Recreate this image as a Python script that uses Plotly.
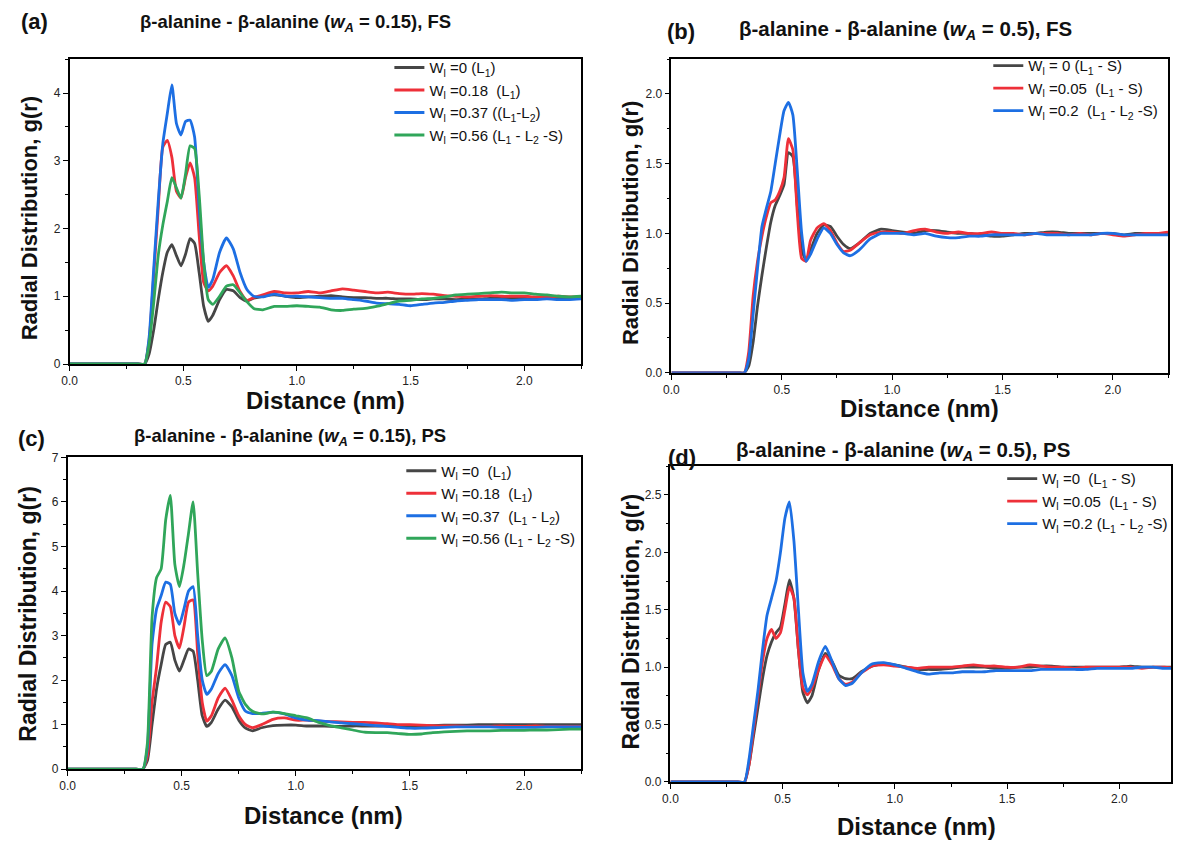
import plotly.graph_objects as go

# ---------------- data ----------------
distance_nm = [0.00, 0.30, 0.33, 0.35, 0.37, 0.39, 0.41, 0.43, 0.45, 0.47, 0.49, 0.51, 0.53, 0.55,
               0.57, 0.59, 0.61, 0.63, 0.66, 0.69, 0.72, 0.75, 0.78, 0.81, 0.85, 0.90, 0.95, 1.00,
               1.05, 1.10, 1.15, 1.20, 1.25, 1.30, 1.35, 1.40, 1.45, 1.50, 1.55, 1.60, 1.65, 1.70,
               1.75, 1.80, 1.85, 1.90, 1.95, 2.00, 2.05, 2.10, 2.15, 2.20, 2.25]

# panel (a): wA = 0.15, FS
a_w0 = [0, 0, 0, 0.15, 0.5, 0.95, 1.35, 1.65, 1.76, 1.6, 1.45, 1.62, 1.85, 1.78,
        1.35, 0.85, 0.63, 0.72, 0.95, 1.10, 1.08, 0.98, 0.93, 0.97, 1.0, 1.02, 1.0, 0.98,
        0.99, 1.0, 1.01, 0.99, 0.98, 0.98, 0.97, 0.97, 0.96, 0.96, 0.95, 0.96, 0.96, 0.95,
        0.96, 0.96, 0.97, 0.97, 0.98, 0.98, 0.98, 0.98, 0.97, 0.98, 0.98]
a_w018 = [0, 0, 0, 0.35, 1.3, 2.3, 3.2, 3.3, 3.05, 2.55, 2.45, 2.75, 2.97, 2.75,
          1.9, 1.2, 1.08, 1.15, 1.35, 1.45, 1.3, 1.07, 0.94, 0.98, 1.02, 1.07, 1.05, 1.05,
          1.07, 1.05, 1.08, 1.11, 1.09, 1.07, 1.05, 1.06, 1.04, 1.03, 1.04, 1.03, 1.01, 1.0,
          0.99, 1.0, 1.01, 1.0, 1.0, 1.0, 0.99, 0.99, 1.0, 0.99, 0.99]
a_w037 = [0, 0, 0, 0.4, 1.4, 2.4, 3.25, 3.7, 4.12, 3.55, 3.38, 3.58, 3.6, 3.35,
          2.3, 1.5, 1.13, 1.25, 1.65, 1.86, 1.7, 1.35, 1.1, 1.0, 0.99, 1.03, 1.0, 1.0,
          0.99, 0.98, 0.97, 0.97, 0.95, 0.93, 0.9, 0.89, 0.88, 0.86, 0.88, 0.9, 0.91, 0.93,
          0.94, 0.95, 0.95, 0.95, 0.94, 0.95, 0.95, 0.96, 0.95, 0.95, 0.96]
a_w056 = [0, 0, 0, 0.3, 0.9, 1.6, 2.05, 2.4, 2.75, 2.6, 2.45, 2.8, 3.22, 3.18,
          2.5, 1.5, 0.95, 0.88, 1.0, 1.15, 1.17, 1.05, 0.92, 0.82, 0.8, 0.85, 0.85, 0.86,
          0.85, 0.84, 0.80, 0.79, 0.81, 0.82, 0.85, 0.89, 0.93, 0.94, 0.96, 0.97, 0.99, 1.02,
          1.03, 1.04, 1.05, 1.06, 1.05, 1.05, 1.03, 1.02, 1.0, 0.99, 1.0]

# panel (b): wA = 0.5, FS
b_w0 = [0, 0, 0, 0.05, 0.22, 0.48, 0.7, 0.9, 1.08, 1.2, 1.27, 1.35, 1.58, 1.55,
        1.2, 0.88, 0.81, 0.88, 1.0, 1.06, 1.05, 0.98, 0.92, 0.89, 0.93, 1.0, 1.03, 1.02,
        1.01, 1.0, 1.02, 1.02, 1.01, 1.0, 1.0, 0.99, 0.98, 0.98, 0.99, 1.0, 1.0, 1.01,
        1.01, 1.0, 1.0, 1.0, 1.0, 1.0, 0.99, 1.0, 1.0, 1.0, 1.0]
b_w005 = [0, 0, 0, 0.15, 0.55, 0.8, 0.98, 1.12, 1.22, 1.24, 1.3, 1.4, 1.68, 1.6,
          1.15, 0.82, 0.8, 0.95, 1.04, 1.07, 1.02, 0.93, 0.87, 0.88, 0.93, 0.99, 1.01, 1.01,
          1.0, 1.02, 1.03, 1.01, 1.0, 1.01, 1.0, 1.0, 1.01, 1.0, 1.0, 0.99, 1.0, 1.0,
          1.0, 0.99, 1.0, 0.99, 1.0, 0.99, 0.98, 0.99, 1.0, 1.0, 1.01]
b_w02 = [0, 0, 0, 0.1, 0.42, 0.75, 1.05, 1.18, 1.3, 1.5, 1.7, 1.88, 1.94, 1.85,
         1.45, 1.0, 0.8, 0.85, 0.96, 1.04, 1.0, 0.92, 0.86, 0.84, 0.88, 0.96, 1.0, 1.0,
         1.0, 0.99, 1.0, 0.98, 0.97, 0.97, 0.98, 0.98, 0.99, 0.99, 0.99, 0.99, 1.0, 0.99,
         0.99, 0.99, 0.99, 0.99, 1.0, 1.0, 0.99, 0.99, 0.99, 0.99, 0.99]

# panel (c): wA = 0.15, PS
c_w0 = [0, 0, 0, 0.2, 1.0, 1.8, 2.35, 2.8, 2.85, 2.45, 2.2, 2.45, 2.7, 2.65,
        2.0, 1.2, 0.96, 1.05, 1.35, 1.55, 1.4, 1.1, 0.92, 0.86, 0.93, 0.98, 0.99, 0.99,
        0.97, 0.97, 0.96, 0.96, 0.97, 0.97, 0.97, 0.97, 0.96, 0.97, 0.98, 0.98, 0.99, 0.99,
        0.99, 1.0, 1.0, 1.0, 1.0, 1.0, 1.0, 1.0, 1.0, 1.0, 1.0]
c_w018 = [0, 0, 0, 0.3, 1.5, 2.3, 3.3, 3.75, 3.65, 3.0, 2.72, 3.2, 3.75, 3.8,
          2.6, 1.5, 1.08, 1.2, 1.6, 1.82, 1.55, 1.2, 1.0, 0.93, 1.0, 1.12, 1.15, 1.1,
          1.1, 1.08, 1.07, 1.06, 1.05, 1.05, 1.04, 1.02, 1.0, 1.0, 0.99, 0.98, 0.97, 0.97,
          0.96, 0.96, 0.96, 0.97, 0.96, 0.96, 0.97, 0.96, 0.96, 0.96, 0.96]
c_w037 = [0, 0, 0, 0.5, 2.8, 3.6, 3.9, 4.2, 4.15, 3.5, 3.25, 3.6, 4.0, 4.1,
          3.0, 2.0, 1.68, 1.8, 2.15, 2.35, 2.1, 1.6, 1.3, 1.25, 1.25, 1.28, 1.24, 1.15,
          1.1, 1.09, 1.06, 1.04, 1.02, 1.0, 0.98, 0.96, 0.94, 0.92, 0.92, 0.93, 0.94, 0.95,
          0.95, 0.95, 0.95, 0.94, 0.94, 0.94, 0.94, 0.95, 0.95, 0.95, 0.95]
c_w056 = [0, 0, 0, 0.6, 3.4, 4.3, 4.5, 5.6, 6.15, 4.6, 4.1, 4.6, 5.3, 6.0,
          4.4, 2.9, 2.1, 2.2, 2.7, 2.95, 2.5, 1.75, 1.45, 1.3, 1.24, 1.28, 1.25, 1.2,
          1.15, 1.05, 0.98, 0.93, 0.88, 0.83, 0.82, 0.82, 0.80, 0.78, 0.79, 0.82, 0.84, 0.85,
          0.86, 0.86, 0.86, 0.87, 0.87, 0.87, 0.88, 0.88, 0.89, 0.9, 0.9]

# panel (d): wA = 0.5, PS
d_w0 = [0, 0, 0, 0.15, 0.4, 0.65, 0.9, 1.1, 1.22, 1.3, 1.35, 1.55, 1.76, 1.6,
        1.15, 0.78, 0.69, 0.75, 0.98, 1.12, 1.05, 0.93, 0.9, 0.9, 0.96, 1.01, 1.03, 1.02,
        1.0, 0.98, 0.98, 0.98, 0.99, 1.0, 1.0, 1.0, 0.99, 0.99, 1.0, 1.0, 1.01, 1.01,
        1.0, 1.0, 1.0, 1.0, 1.0, 1.0, 1.01, 1.0, 1.0, 1.0, 1.0]
d_w005 = [0, 0, 0, 0.15, 0.45, 0.75, 1.05, 1.25, 1.33, 1.25, 1.3, 1.5, 1.7, 1.6,
          1.15, 0.82, 0.76, 0.82, 0.98, 1.1, 1.02, 0.9, 0.85, 0.87, 0.95, 1.01, 1.02, 1.01,
          1.0, 0.99, 1.0, 1.0, 1.0, 1.01, 1.02, 1.01, 1.01, 1.0, 1.0, 1.02, 1.01, 1.0,
          1.0, 0.99, 1.0, 1.0, 1.0, 1.0, 1.0, 0.99, 1.0, 1.0, 0.99]
d_w02 = [0, 0, 0, 0.2, 0.5, 0.8, 1.15, 1.45, 1.6, 1.75, 2.0, 2.3, 2.44, 2.1,
         1.5, 0.95, 0.79, 0.85, 1.05, 1.18, 1.05, 0.9, 0.84, 0.86, 0.95, 1.03, 1.04, 1.02,
         0.99, 0.96, 0.94, 0.95, 0.95, 0.96, 0.96, 0.96, 0.97, 0.97, 0.97, 0.97, 0.98, 0.98,
         0.98, 0.98, 0.98, 0.99, 0.99, 0.99, 0.99, 1.0, 1.0, 0.99, 0.99]

a_labels = ["W<sub>l</sub> =0 (L<sub>1</sub>)",
            "W<sub>l</sub> =0.18 &nbsp;(L<sub>1</sub>)",
            "W<sub>l</sub> =0.37 ((L<sub>1</sub>-L<sub>2</sub>)",
            "W<sub>l</sub> =0.56 (L<sub>1</sub> - L<sub>2</sub> -S)"]
b_labels = ["W<sub>l</sub> = 0 (L<sub>1</sub> - S)",
            "W<sub>l</sub> =0.05 &nbsp;(L<sub>1</sub> - S)",
            "W<sub>l</sub> =0.2 &nbsp;(L<sub>1</sub> - L<sub>2</sub> -S)"]
c_labels = ["W<sub>l</sub> =0 &nbsp;(L<sub>1</sub>)",
            "W<sub>l</sub> =0.18 &nbsp;(L<sub>1</sub>)",
            "W<sub>l</sub> =0.37 &nbsp;(L<sub>1</sub> - L<sub>2</sub>)",
            "W<sub>l</sub> =0.56 (L<sub>1</sub> - L<sub>2</sub> -S)"]
d_labels = ["W<sub>l</sub> =0 &nbsp;(L<sub>1</sub> - S)",
            "W<sub>l</sub> =0.05 &nbsp;(L<sub>1</sub> - S)",
            "W<sub>l</sub> =0.2 (L<sub>1</sub> - L<sub>2</sub> -S)"]

panel_titles = ["<b>β-alanine - β-alanine (<i>w</i><sub><i>A</i></sub> = 0.15), FS</b>",
                "<b>β-alanine - β-alanine (<i>w</i><sub><i>A</i></sub> = 0.5), FS</b>",
                "<b>β-alanine - β-alanine (<i>w</i><sub><i>A</i></sub> = 0.15), PS</b>",
                "<b>β-alanine - β-alanine (<i>w</i><sub><i>A</i></sub> = 0.5), PS</b>"]
panel_tags = ["(a)", "(b)", "(c)", "(d)"]

# ---------------- styling / layout ----------------
W, H = 1177, 847
FONT = "Liberation Sans, Arial, sans-serif"
GRAY, RED, BLUE, GREEN = "#464646", "#ee3039", "#1d6fe3", "#30a65a"


def px_x(p):
    return p / W


def px_y(p):
    return 1 - p / H


panels = [
    dict(l=62, r=577, t=53, b=363, yr=[0, 4.5], yd=1, ym=0.5, yf="d", xmax=2.25,
         series=[a_w0, a_w018, a_w037, a_w056], colors=[GRAY, RED, BLUE, GREEN], labels=a_labels,
         leg=(384, 45), tag=(27, 15), title=(289, 16), tsize=18.5, ysize=22,
         ytit=(22, 215), xtit=(320, 400)),
    dict(l=668, r=1168, t=53, b=372, yr=[0, 2.25], yd=0.5, ym=0.25, yf=".1f", xmax=2.25,
         series=[b_w0, b_w005, b_w02], colors=[GRAY, RED, BLUE], labels=b_labels,
         leg=(987, 43), tag=(678, 25), title=(904, 23), tsize=20.5, ysize=22,
         ytit=(627, 220), xtit=(918, 408)),
    dict(l=60, r=577, t=458, b=775, yr=[0, 7], yd=1, ym=0.5, yf="d", xmax=2.25,
         series=[c_w0, c_w018, c_w037, c_w056], colors=[GRAY, RED, BLUE, GREEN], labels=c_labels,
         leg=(396, 455), tag=(24, 439), title=(284, 437), tsize=18.5, ysize=23,
         ytit=(20, 617), xtit=(318, 822)),
    dict(l=667, r=1171, t=467, b=788, yr=[0, 2.75], yd=0.5, ym=0.25, yf=".1f", xmax=2.23,
         series=[d_w0, d_w005, d_w02], colors=[GRAY, RED, BLUE], labels=d_labels,
         leg=(1001, 463), tag=(679, 458), title=(901, 451), tsize=20.5, ysize=23,
         ytit=(627, 625), xtit=(915, 833)),
]

fig = go.Figure()
layout = dict(width=W, height=H, margin=dict(l=0, r=0, t=0, b=0),
              paper_bgcolor="white", plot_bgcolor="white", showlegend=True,
              font=dict(family=FONT, color="#111"))
annotations = []


def note(text, xy, size, angle=0):
    return dict(text=text, x=px_x(xy[0]), y=px_y(xy[1]), xref="paper", yref="paper",
                xanchor="center", yanchor="middle", showarrow=False, textangle=angle,
                font=dict(family=FONT, size=size, color="#111"))


for i, p in enumerate(panels):
    k = "" if i == 0 else str(i + 1)
    xa, ya = "x" + k, "y" + k
    leg = "legend" + k
    for s, c, lab in zip(p["series"], p["colors"], p["labels"]):
        fig.add_trace(go.Scatter(x=distance_nm, y=s, mode="lines", name=lab,
                                 line=dict(color=c, width=2.8, shape="spline", smoothing=0.5),
                                 xaxis=xa, yaxis=ya, legend=leg))
    axis_common = dict(showline=True, linecolor="black", linewidth=1.5, mirror=True,
                       ticks="outside", ticklen=5, tickwidth=1.2, tickcolor="black",
                       showgrid=False, zeroline=False,
                       tickfont=dict(family=FONT, size=12, color="#222"))
    layout["xaxis" + k] = dict(domain=[px_x(p["l"]), px_x(p["r"])], anchor=ya,
                               range=[0, p["xmax"]], dtick=0.5, tick0=0, tickformat=".1f",
                               minor=dict(dtick=0.25, ticks="outside", ticklen=3, tickcolor="black"),
                               **axis_common)
    layout["yaxis" + k] = dict(domain=[px_y(p["b"]), px_y(p["t"])], anchor=xa,
                               range=p["yr"], dtick=p["yd"], tick0=0, tickformat=p["yf"],
                               minor=dict(dtick=p["ym"], ticks="outside", ticklen=3, tickcolor="black"),
                               **axis_common)
    layout[leg] = dict(x=px_x(p["leg"][0]), y=px_y(p["leg"][1]), xanchor="left", yanchor="top",
                       bgcolor="rgba(0,0,0,0)", borderwidth=0, tracegroupgap=0,
                       font=dict(family=FONT, size=15, color="#111"))
    annotations += [
        note("<b>%s</b>" % panel_tags[i], p["tag"], 22),
        note(panel_titles[i], p["title"], p["tsize"]),
        note("<b>Radial Distribution, g(r)</b>", p["ytit"], p["ysize"], -90),
        note("<b>Distance (nm)</b>", p["xtit"], 24),
    ]

layout["annotations"] = annotations
fig.update_layout(**layout)
fig.write_html("out.html")
